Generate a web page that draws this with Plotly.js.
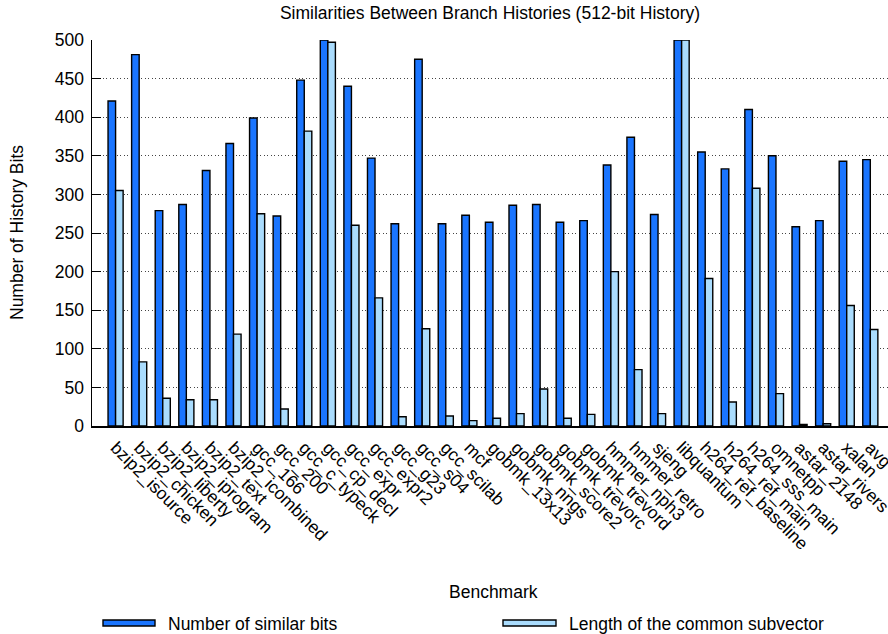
<!DOCTYPE html>
<html>
<head>
<meta charset="utf-8">
<script src="https://cdn.plot.ly/plotly-3.0.1.min.js"></script>
<style>html,body{margin:0;padding:0;background:#fff;}#chart{width:888px;height:634px;}</style>
</head>
<body>
<div id="chart"></div>
<script>
const benchmarks = ["bzip2_isource","bzip2_chicken","bzip2_liberty","bzip2_iprogram","bzip2_text","bzip2_icombined",
  "gcc_166","gcc_200","gcc_c_typeck","gcc_cp_decl","gcc_expr","gcc_expr2","gcc_g23","gcc_s04","gcc_scilab","mcf",
  "gobmk_13x13","gobmk_nngs","gobmk_score2","gobmk_trevorc","gobmk_trevord","hmmer_nph3","hmmer_retro","sjeng",
  "libquantum","h264_ref_baseline","h264_ref_main","h264_sss_main","omnetpp","astar_2148","astar_rivers","xalan","avg"];
const similarBits = [421,481,279,287,331,366,399,272,448,500,440,347,262,475,262,273,264,286,287,264,266,338,374,274,500,355,333,410,350,258,266,343,345];
const commonSubvector = [305,83,36,34,34,119,275,22,382,497,260,166,12,126,13,7,10,16,48,10,15,200,73,16,500,191,31,308,42,2,3,156,125];
const yTicks = [0,50,100,150,200,250,300,350,400,450,500];
const seriesNames = ["Number of similar bits","Length of the common subvector"];

const FONT = "Liberation Sans, Arial, Helvetica, sans-serif";
const blue = "#1a75ff", light = "#aadcfd";

const traces = [
  {type:"bar", x:benchmarks, y:similarBits, name:seriesNames[0],
   marker:{color:blue, line:{color:"#000", width:1.4}}},
  {type:"bar", x:benchmarks, y:commonSubvector, name:seriesNames[1],
   marker:{color:light, line:{color:"#000", width:1.4}}}
];

function px2x(px){return (px-92)/796;}
function px2y(py){return (426-py)/386;}

const layout = {
  width:888, height:634,
  margin:{l:92, r:0, t:40, b:208},
  paper_bgcolor:"#fff", plot_bgcolor:"#fff",
  font:{family:FONT, size:17, color:"#000"},
  showlegend:false,
  barmode:"group", bargap:0.36, bargroupgap:0,
  title:{text:"Similarities Between Branch Histories (512-bit History)", font:{size:17.5, family:FONT},
         x:0.5, xref:"paper", xanchor:"center", y:1-13/634, yanchor:"middle"},
  xaxis:{type:"category", range:[-1, 32.75], tickangle:45, showgrid:false, zeroline:false,
         showline:true, linecolor:"#000", linewidth:1.5, ticks:"", tickfont:{size:17.5},
         ticklabelstandoff:3, automargin:false},
  yaxis:{range:[0,500], tickvals:yTicks, ticktext:yTicks.map(String), showgrid:true,
         gridcolor:"#444", griddash:"1px,2.5px", gridwidth:1, zeroline:false,
         showline:true, linecolor:"#000", linewidth:1.5, ticks:"inside", ticklen:9, tickcolor:"#000",
         tickfont:{size:17.5}, ticklabelstandoff:3, automargin:false},
  shapes:[
    {type:"rect", xref:"paper", yref:"paper", x0:px2x(103), x1:px2x(155), y0:px2y(626), y1:px2y(620),
     fillcolor:blue, line:{color:"#000", width:1.4}},
    {type:"rect", xref:"paper", yref:"paper", x0:px2x(503), x1:px2x(556), y0:px2y(626), y1:px2y(620),
     fillcolor:light, line:{color:"#000", width:1.4}}
  ],
  annotations:[
    {text:"Benchmark", xref:"paper", yref:"paper", x:px2x(493), y:px2y(592), showarrow:false,
     xanchor:"center", yanchor:"middle", font:{size:17.5}},
    {text:"Number of History Bits", xref:"paper", yref:"paper", x:px2x(17), y:0.5, textangle:-90,
     showarrow:false, xanchor:"center", yanchor:"middle", font:{size:17.5}},
    {text:seriesNames[0], xref:"paper", yref:"paper", x:px2x(166), y:px2y(624), showarrow:false,
     xanchor:"left", yanchor:"middle", font:{size:17.5}},
    {text:seriesNames[1], xref:"paper", yref:"paper", x:px2x(567), y:px2y(624), showarrow:false,
     xanchor:"left", yanchor:"middle", font:{size:17.5}}
  ]
};

Plotly.newPlot("chart", traces, layout, {displayModeBar:false, staticPlot:true});
</script>
</body>
</html>
